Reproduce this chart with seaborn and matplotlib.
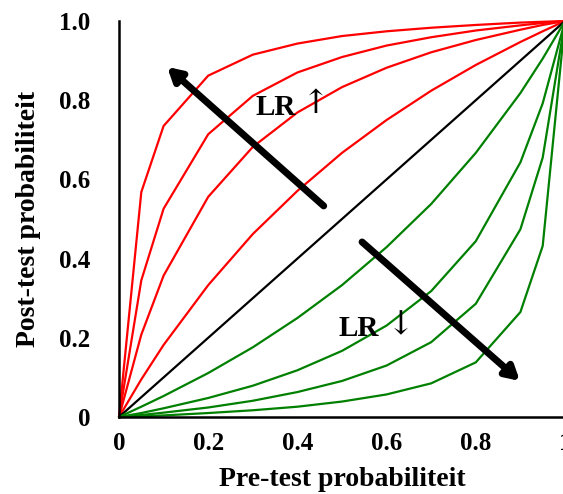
import matplotlib
matplotlib.use("Agg")
import matplotlib.pyplot as plt
import seaborn as sns
import pandas as pd

sns.set_style("white")
plt.rcParams['font.family'] = ['Liberation Serif', 'DejaVu Serif']
plt.rcParams['font.weight'] = 'bold'
plt.rcParams['text.color'] = 'black'
plt.rcParams['axes.labelcolor'] = 'black'
plt.rcParams['xtick.color'] = 'black'
plt.rcParams['ytick.color'] = 'black'

pre = [0, 0.05, 0.1, 0.2, 0.3, 0.4, 0.5, 0.6, 0.7, 0.8, 0.9, 0.95, 1.0]

red_25 = [0, 0.568, 0.735, 0.862, 0.915, 0.943, 0.962, 0.974, 0.983, 0.990, 0.996, 0.998, 1.0]
red_10 = [0, 0.345, 0.526, 0.714, 0.811, 0.870, 0.909, 0.938, 0.959, 0.976, 0.989, 0.995, 1.0]
red_5 = [0, 0.208, 0.357, 0.556, 0.682, 0.769, 0.833, 0.882, 0.921, 0.952, 0.978, 0.990, 1.0]
red_2 = [0, 0.095, 0.182, 0.333, 0.462, 0.571, 0.667, 0.750, 0.824, 0.889, 0.947, 0.974, 1.0]
black_1 = [0, 0.05, 0.1, 0.2, 0.3, 0.4, 0.5, 0.6, 0.7, 0.8, 0.9, 0.95, 1.0]
green_05 = [0, 0.026, 0.053, 0.111, 0.176, 0.250, 0.333, 0.429, 0.538, 0.667, 0.818, 0.905, 1.0]
green_02 = [0, 0.010, 0.022, 0.048, 0.079, 0.118, 0.167, 0.231, 0.318, 0.444, 0.643, 0.792, 1.0]
green_01 = [0, 0.005, 0.011, 0.024, 0.041, 0.063, 0.091, 0.130, 0.189, 0.286, 0.474, 0.655, 1.0]
green_004 = [0, 0.002, 0.004, 0.010, 0.017, 0.026, 0.039, 0.057, 0.085, 0.138, 0.265, 0.432, 1.0]

series = [
    (red_25, '#ff0000'), (red_10, '#ff0000'), (red_5, '#ff0000'), (red_2, '#ff0000'),
    (black_1, '#000000'),
    (green_05, '#008000'), (green_02, '#008000'), (green_01, '#008000'), (green_004, '#008000'),
]

x_ticks = [0, 0.2, 0.4, 0.6, 0.8, 1.0]
x_tick_labels = ['0', '0.2', '0.4', '0.6', '0.8', '1']
y_ticks = [0, 0.2, 0.4, 0.6, 0.8, 1.0]
y_tick_labels = ['0', '0.2', '0.4', '0.6', '0.8', '1.0']

fig = plt.figure(figsize=(5.63, 4.94), dpi=100)
ax = fig.add_axes([119/563, 77/494, 446/563, 396/494])

for vals, col in series:
    df = pd.DataFrame({'pre': pre, 'post': vals})
    sns.lineplot(data=df, x='pre', y='post', color=col, lw=1.6, ax=ax,
                 estimator=None, sort=False, clip_on=False)

ax.set_xlim(0, 1)
ax.set_ylim(0, 1)
ax.set_xticks(x_ticks)
ax.set_xticklabels(x_tick_labels)
ax.set_yticks(y_ticks)
ax.set_yticklabels(y_tick_labels)
for s in ['top', 'right']:
    ax.spines[s].set_visible(False)
for s in ['left', 'bottom']:
    ax.spines[s].set_linewidth(1.8)
    ax.spines[s].set_color('black')
ax.tick_params(axis='both', direction='out', length=7.5, width=1.8, labelsize=18, colors='black')
ax.tick_params(axis='y', pad=13)
ax.tick_params(axis='x', pad=3)
for lab in ax.get_xticklabels() + ax.get_yticklabels():
    lab.set_fontweight('bold')
ax.set_xlabel('Pre-test probabiliteit', fontsize=20, fontweight='bold', labelpad=9, color='black')
ax.set_ylabel('Post-test probabiliteit', fontsize=20, fontweight='bold', labelpad=13, color='black')

ax.annotate('', xy=(0.108, 0.884), xytext=(0.459, 0.533),
            arrowprops=dict(arrowstyle='-|>,head_length=0.8,head_width=0.45', lw=5, color='black',
                            shrinkA=0, shrinkB=0), annotation_clip=False)
ax.annotate('', xy=(0.899, 0.091), xytext=(0.545, 0.442),
            arrowprops=dict(arrowstyle='-|>,head_length=0.8,head_width=0.45', lw=5, color='black',
                            shrinkA=0, shrinkB=0), annotation_clip=False)
ax.text(0.305, 0.782, 'LR', fontsize=21, fontweight='bold', va='center', ha='left', color='black')
ax.text(0.441, 0.79, '↑', fontsize=24, fontweight='normal', family=['DejaVu Serif'],
        va='center', ha='center', color='black')
ax.text(0.492, 0.224, 'LR', fontsize=21, fontweight='bold', va='center', ha='left', color='black')
ax.text(0.633, 0.232, '↓', fontsize=24, fontweight='normal', family=['DejaVu Serif'],
        va='center', ha='center', color='black')

fig.savefig('out.png', dpi=100)
